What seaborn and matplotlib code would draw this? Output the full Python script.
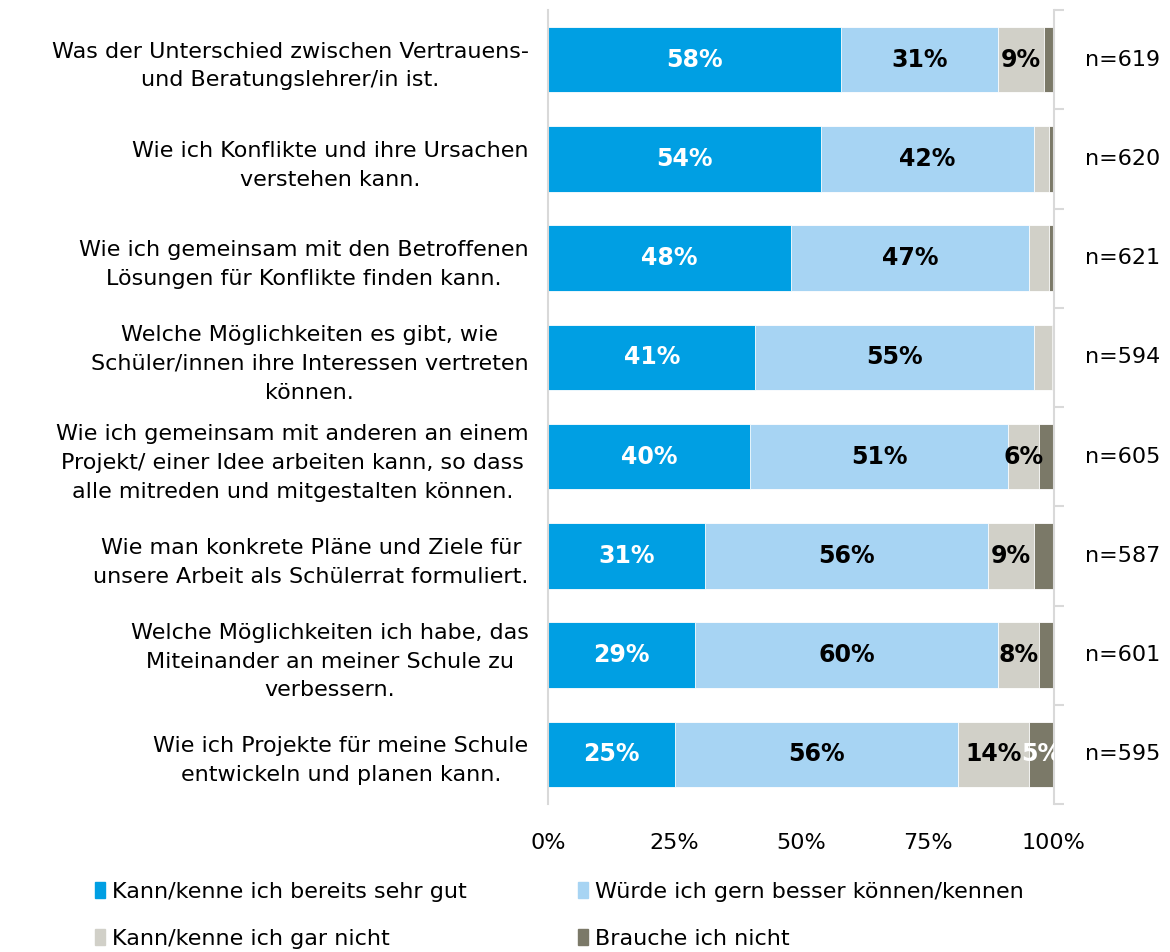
import numpy as np
import seaborn as sns
import matplotlib.pyplot as plt
import matplotlib.patches as mpatches

# Data
items = [
    'Was der Unterschied zwischen Vertrauens-\nund Beratungslehrer/in ist.',
    'Wie ich Konflikte und ihre Ursachen\nverstehen kann.',
    'Wie ich gemeinsam mit den Betroffenen\nLösungen für Konflikte finden kann.',
    'Welche Möglichkeiten es gibt, wie\nSchüler/innen ihre Interessen vertreten\nkönnen.',
    'Wie ich gemeinsam mit anderen an einem\nProjekt/ einer Idee arbeiten kann, so dass\nalle mitreden und mitgestalten können.',
    'Wie man konkrete Pläne und Ziele für\nunsere Arbeit als Schülerrat formuliert.',
    'Welche Möglichkeiten ich habe, das\nMiteinander an meiner Schule zu\nverbessern.',
    'Wie ich Projekte für meine Schule\nentwickeln und planen kann.',
]
kann_gut = [58, 54, 48, 41, 40, 31, 29, 25]
wuerde = [31, 42, 47, 55, 51, 56, 60, 56]
gar_nicht = [9, 3, 4, 3.6, 6, 9, 8, 14]
brauche = [2, 1, 1, 0.4, 3, 4, 3, 5]
n_counts = [619, 620, 621, 594, 605, 587, 601, 595]

series_names = ['Kann/kenne ich bereits sehr gut', 'Würde ich gern besser können/kennen',
                'Kann/kenne ich gar nicht', 'Brauche ich nicht']
colors = ['#009FE3', '#A7D4F3', '#D1D0C8', '#7B7968']
text_colors = ['white', 'black', 'black', 'white']

sns.set_style('white')
plt.rcParams['font.family'] = ['DejaVu Sans']
plt.rcParams['text.color'] = 'black'
plt.rcParams['xtick.color'] = 'black'
plt.rcParams['ytick.color'] = 'black'
FS = 16

fig = plt.figure(figsize=(11.7, 9.52), dpi=100)
ax = fig.add_axes([548 / 1170, 1 - 804 / 952, 506 / 1170, 794 / 952])

series = [kann_gut, wuerde, gar_nicht, brauche]
cum = np.cumsum(np.array(series), axis=0)

# stacked bars: draw the longest cumulative first, then overlay
for k in range(3, -1, -1):
    sns.barplot(x=cum[k], y=items, orient='h', color=colors[k], saturation=1,
                width=0.66, edgecolor='white', linewidth=0.6, ax=ax)

# segment labels
for i in range(len(items)):
    left = 0
    for k in range(4):
        v = series[k][i]
        if v >= 5:
            ax.text(left + v / 2, i, f'{v:.0f}%', ha='center', va='center',
                    color=text_colors[k], fontsize=17, fontweight='bold', clip_on=True)
        left += v
    ax.text(1.061, i, f'n={n_counts[i]}', transform=ax.get_yaxis_transform(),
            ha='left', va='center', fontsize=FS, color='black')

ax.set_xlim(0, 100)
ax.set_ylim(7.5, -0.5)
ax.set_xticks([0, 25, 50, 75, 100])
ax.set_xticklabels(['0%', '25%', '50%', '75%', '100%'], fontsize=FS)
ax.tick_params(axis='x', length=0, pad=21, labelcolor='black')
ax.set_xlabel('')
ax.set_ylabel('')
ax.set_yticks(range(len(items)))
ax.set_yticklabels(items, fontsize=FS, linespacing=1.55)
for lab in ax.get_yticklabels():
    lab.set_multialignment('center')
ax.tick_params(axis='y', which='major', length=0, pad=14, labelcolor='black')
ax.set_yticks(np.arange(-0.5, 8, 1), minor=True)
ax.tick_params(axis='y', which='minor', left=False, right=True, length=7,
               width=1.5, color='#D9D9D9', direction='out')

for side in ['top', 'bottom']:
    ax.spines[side].set_visible(False)
for side in ['left', 'right']:
    ax.spines[side].set_visible(True)
    ax.spines[side].set_color('#D9D9D9')
    ax.spines[side].set_linewidth(1.5)

handles = [mpatches.Patch(color=colors[k]) for k in [0, 2, 1, 3]]
labels = [series_names[k] for k in [0, 2, 1, 3]]
fig.legend(handles, labels, ncol=2, loc='upper left', bbox_to_anchor=(0.074, 0.083),
           frameon=False, fontsize=FS, handlelength=0.45, handleheight=0.7,
           handletextpad=0.3, columnspacing=5.0, labelspacing=1.2, borderaxespad=0)

plt.savefig('out.png', dpi=100)
